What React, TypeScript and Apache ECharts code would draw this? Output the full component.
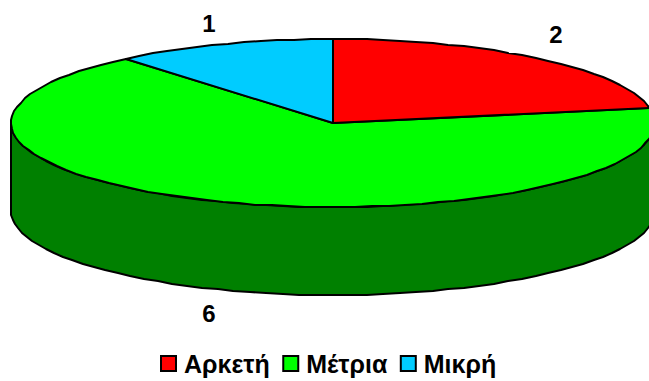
import React, { useEffect, useRef } from "react";
import * as echarts from "echarts";

const categories = ["Αρκετή", "Μέτρια", "Μικρή"];
const values = [2, 6, 1];
const topColors = ["#ff0000", "#00ff00", "#00ccff"];
const wallColors = ["#800000", "#008000", "#006680"];

const CX = 333;
const CY = 123;
const RX = 322;
const RY = 84;
const DEPTH = 88;
const STEP = 3;
const LABEL_POS = [
  [556, 34],
  [209, 313],
  [209, 23],
];

const pt = (deg: number, dy = 0): number[] => {
  const r = (deg * Math.PI) / 180;
  return [
    Math.round(CX + RX * Math.sin(r)),
    Math.round(CY + dy - RY * Math.cos(r)),
  ];
};

const arc = (a: number, b: number, dy = 0): number[][] => {
  const out: number[][] = [];
  for (let t = a; t < b; t += STEP) out.push(pt(t, dy));
  out.push(pt(b, dy));
  return out;
};

const total = values.reduce((s, v) => s + v, 0);

export default function App() {
  const ref = useRef<HTMLDivElement>(null);
  useEffect(() => {
    document.body.style.margin = "0";
    const chart = echarts.init(ref.current!, undefined, { renderer: "svg" });
    let acc = 0;
    const series = categories.map((name, i) => {
      const start = (acc / total) * 360;
      acc += values[i];
      const end = (acc / total) * 360;
      return {
        type: "custom",
        name,
        coordinateSystem: "none",
        z: i === 1 ? 2 : 3,
        silent: true,
        itemStyle: { color: topColors[i] },
        data: [[values[i]]],
        renderItem: (_p: any, api: any) => {
          const children: any[] = [];
          const a = Math.max(start, 90);
          const b = Math.min(end, 270);
          if (b > a) {
            children.push({
              type: "polygon",
              shape: { points: [...arc(a, b), ...arc(a, b, DEPTH).reverse()] },
              style: { fill: wallColors[i], stroke: "#000", lineWidth: 2, lineJoin: "round" },
            });
          }
          children.push({
            type: "polygon",
            shape: { points: [[CX, CY], ...arc(start, end)] },
            style: { fill: topColors[i], stroke: "#000", lineWidth: 2, lineJoin: "round" },
          });
          children.push({
            type: "text",
            style: {
              text: String(api.value(0)),
              x: LABEL_POS[i][0],
              y: LABEL_POS[i][1],
              fill: "#000",
              font: "bold 24px 'Liberation Sans', Arial, sans-serif",
              textAlign: "center",
              textVerticalAlign: "middle",
            },
          });
          return { type: "group", children };
        },
      };
    });
    chart.setOption({
      animation: false,
      backgroundColor: "#fff",
      legend: {
        show: true,
        data: categories,
        left: 160,
        top: 351,
        padding: 0,
        icon: "rect",
        itemWidth: 15,
        itemHeight: 15,
        itemGap: 12.5,
        selectedMode: false,
        itemStyle: { borderColor: "#000", borderWidth: 2 },
        textStyle: {
          color: "#000",
          fontFamily: "'Liberation Sans', Arial, sans-serif",
          fontWeight: "bold",
          fontSize: 25,
          padding: [0, 0, 0, 3],
        },
      },
      series,
    });
    return () => chart.dispose();
  }, []);
  return <div ref={ref} style={{ width: 649, height: 381 }} />;
}
